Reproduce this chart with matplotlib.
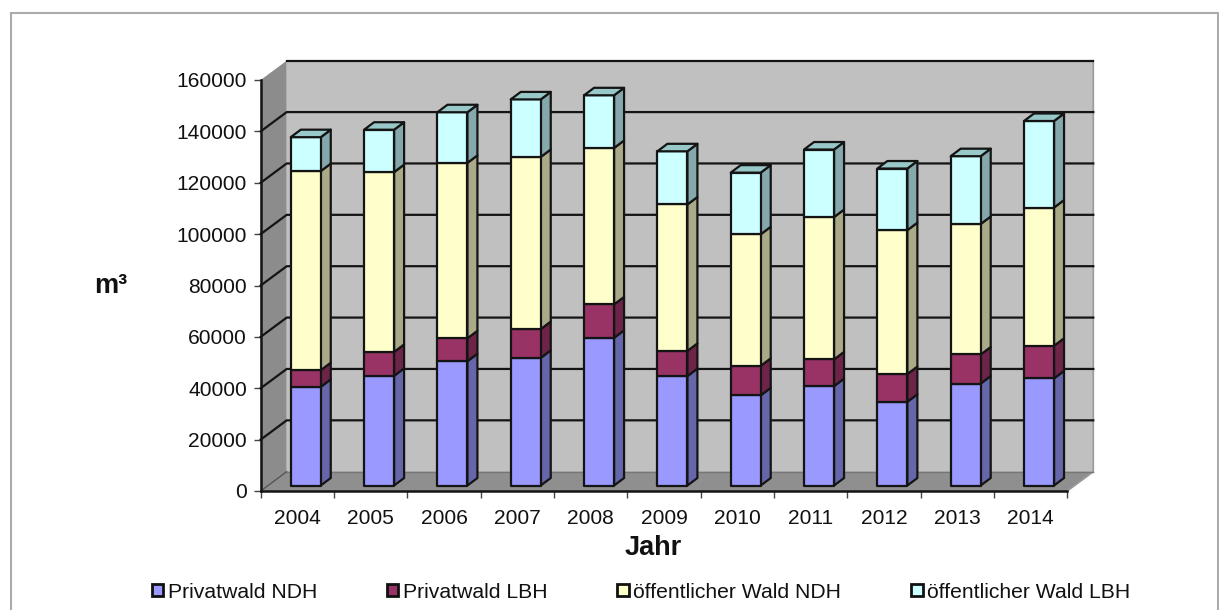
import matplotlib
matplotlib.use("Agg")
import matplotlib.pyplot as plt
from matplotlib.patches import Polygon, Patch, Rectangle

plt.rcParams['font.family'] = ['Liberation Sans', 'DejaVu Sans']

years = ['2004','2005','2006','2007','2008','2009','2010','2011','2012','2013','2014']
privat_ndh = [38400,42700,48400,49700,57500,42600,35100,38700,32600,39700,41700]
privat_lbh = [6500,9300,8900,11200,13000,9800,11500,10400,10800,11300,12700]
oeff_ndh = [77500,70000,68300,67000,60900,57000,51200,55400,56000,50800,53800]
oeff_lbh = [13200,16500,19700,22400,20500,20700,24000,26300,24000,26400,33700]
series_names = ['Privatwald NDH','Privatwald LBH','öffentlicher Wald NDH','öffentlicher Wald LBH']
series_values = [privat_ndh, privat_lbh, oeff_ndh, oeff_lbh]
face = ['#9999FF','#993366','#FFFFCC','#CCFFFF']
side = ['#6666AA','#6E2448','#AAAA88','#84A8AC']
top_color = '#98C8C8'
y_ticks = list(range(0,160001,20000))

W,H = 1219,610
fig = plt.figure(figsize=(W/100,H/100),dpi=100,facecolor='white')
L,R,T,B = 260.7,1067.3,80.0,491.0
ax = fig.add_axes([L/W,1-B/H,(R-L)/W,(B-T)/H])
ax.set_xlim(0,11); ax.set_ylim(0,160000)
ax.patch.set_visible(False)
px = 11/(R-L); py = 160000/(B-T)
DX,DY = 26*px,19.3*py
lw = 1.6; dark = '#141414'

def poly(pts,fc,ec='none',z=1,l=0):
    ax.add_patch(Polygon(pts,closed=True,facecolor=fc,edgecolor=ec,linewidth=l,zorder=z,clip_on=False,joinstyle='round'))

ymax = y_ticks[-1]
poly([(DX,DY),(11+DX,DY),(11+DX,ymax+DY),(DX,ymax+DY)],'#C0C0C0',z=1)
poly([(0,0),(DX,DY),(DX,ymax+DY),(0,ymax)],'#8C8C8C',z=1)
poly([(0,0),(11,0),(11+DX,DY),(DX,DY)],'#8F8F8F',z=1)
ax.plot([11,11+DX,11+DX],[0,DY,ymax+DY],color='#9A9A9A',lw=1.2,zorder=2,clip_on=False)
for v in y_ticks:
    if v==0:
        ax.plot([0,DX],[0,DY],color='#555555',lw=1.0,zorder=2,clip_on=False)
        ax.plot([DX,11+DX],[DY,DY],color='#777777',lw=1.0,zorder=2,clip_on=False)
    elif v==ymax:
        ax.plot([DX,11+DX],[v+DY,v+DY],color=dark,lw=lw,zorder=2,clip_on=False)
    else:
        ax.plot([0,DX,11+DX],[v,v+DY,v+DY],color=dark,lw=lw,zorder=2,clip_on=False)

# 3D stacked columns
bw,bdx,bdy = 30*px,10*px,7.5*py
oy = 5.5*py
for i in range(len(years)):
    x0 = i+0.5+8.4*px-bw/2
    x1 = x0+bw
    base = oy
    z = 5+i*0.1
    for s,vals in enumerate(series_values):
        h = vals[i]
        poly([(x1,base),(x1+bdx,base+bdy),(x1+bdx,base+h+bdy),(x1,base+h)],side[s],dark,z,lw)
        poly([(x0,base),(x1,base),(x1,base+h),(x0,base+h)],face[s],dark,z,lw)
        base += h
    poly([(x0,base),(x1,base),(x1+bdx,base+bdy),(x0+bdx,base+bdy)],top_color,dark,z,lw)

for sp in ['top','right']:
    ax.spines[sp].set_visible(False)
for sp in ['left','bottom']:
    ax.spines[sp].set_linewidth(1.8); ax.spines[sp].set_color(dark); ax.spines[sp].set_zorder(4)
ax.set_xticks(range(12))
ax.set_xticklabels([])
ax.set_xticks([i+0.5 for i in range(11)],minor=True)
ax.set_xticklabels(years,minor=True,fontsize=15.1,color='#111111')
ax.tick_params(axis='x',which='minor',length=0,pad=13)
ax.tick_params(axis='x',which='major',length=5,width=1,color='#444444')
ax.set_yticks(y_ticks)
ax.set_yticklabels([str(v) for v in y_ticks],fontsize=15.1,color='#111111')
ax.tick_params(axis='y',length=5,width=1,color='#444444',pad=5)

fig.text(111/W,1-286/H,'m³',fontsize=19.5,fontweight='bold',ha='center',va='center',color='#111111')
fig.text(653/W,1-548/H,'Jahr',fontsize=19.5,fontweight='bold',ha='center',va='center',color='#111111')

handles = [Patch(facecolor=f,edgecolor='#111111',linewidth=2,label=n) for f,n in zip(face,series_names)]
fig.legend(handles=handles,ncol=4,loc='center',bbox_to_anchor=(641/W,1-592/H),frameon=False,
           fontsize=15.2,handlelength=0.55,handleheight=0.55,handletextpad=0.22,columnspacing=3.3,labelcolor='#111111')

fig.add_artist(Rectangle((11/W,-0.05),(1218-11)/W,1.05-13/H,fill=False,edgecolor='#ABABAB',linewidth=1.5,transform=fig.transFigure))
fig.savefig('out.png',dpi=100)
